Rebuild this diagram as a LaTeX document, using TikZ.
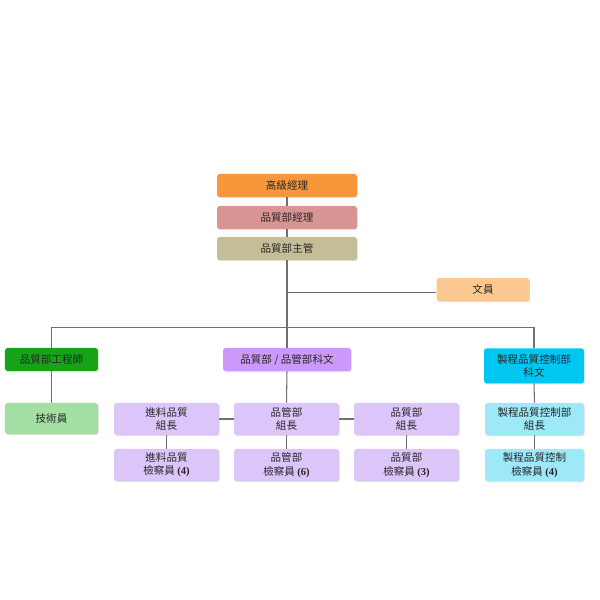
\documentclass[tikz,border=0pt]{standalone}
\usepackage{fontspec}
\newfontfamily\cjk{Noto Sans CJK TC}
\newfontfamily\numfont{Liberation Serif}
\usetikzlibrary{shadows}
\definecolor{orgbox}{HTML}{F7963B}
\definecolor{pinkbox}{HTML}{D99594}
\definecolor{khakibox}{HTML}{C4BD97}
\definecolor{peachbox}{HTML}{FAC890}
\definecolor{greenbox}{HTML}{17A317}
\definecolor{lgreenbox}{HTML}{A3DEA3}
\definecolor{purplebox}{HTML}{CC99FA}
\definecolor{lpurplebox}{HTML}{DCC6F9}
\definecolor{cyanbox}{HTML}{00C6F1}
\definecolor{lcyanbox}{HTML}{9DE8F9}
\definecolor{linegray}{HTML}{707070}
\newcommand{\num}[1]{{\numfont\bfseries #1}}

\begin{document}
\begin{tikzpicture}[
        box/.style={rounded corners=1.5pt, align=center, inner sep=0pt,
                text=black!85, font=\cjk\fontsize{6}{7.6}\selectfont,
                drop shadow={opacity=0.25, shadow xshift=0.4pt, shadow yshift=-0.6pt}},
        wide/.style={box, minimum width=2.8cm, minimum height=0.46cm},
        mid/.style={box, minimum width=1.86cm, minimum height=0.46cm},
        lead/.style={box, minimum width=2.1cm, minimum height=0.64cm},
        link/.style={linegray, line width=0.6pt}
    ]
        \useasboundingbox (0,0) rectangle (12,12);

        % top chain
        \node[wide, fill=orgbox] (gaoji) at (5.74,8.29) {高級經理};
        \node[wide, fill=pinkbox] (jingli) at (5.74,7.65) {品質部經理};
        \node[wide, fill=khakibox] (zhuguan) at (5.74,7.03) {品質部主管};
        \node[mid, fill=peachbox] (wenyuan) at (9.66,6.21) {文員};

        % second level
        \node[mid, fill=greenbox] (gongcheng) at (1.03,4.81) {品質部工程師};
        \node[box, fill=purplebox, minimum width=2.56cm, minimum height=0.46cm] (kewen) at (5.74,4.81) {品質部 / 品管部科文};
        \node[box, fill=cyanbox, minimum width=2.0cm, minimum height=0.7cm, anchor=north] (zhikong) at (10.68,5.04) {製程品質控制部\\科文};

        % group leaders
        \node[box, fill=lgreenbox, minimum width=1.86cm, minimum height=0.62cm] (jishu) at (1.03,3.63) {技術員};
        \node[lead, fill=lpurplebox] (jinliao) at (3.33,3.62) {進料品質\\組長};
        \node[lead, fill=lpurplebox] (pinguan) at (5.73,3.62) {品管部\\組長};
        \node[lead, fill=lpurplebox] (pinzhi) at (8.13,3.62) {品質部\\組長};
        \node[lead, fill=lcyanbox, minimum width=1.98cm] (zhikongz) at (10.69,3.62) {製程品質控制部\\組長};

        % inspectors
        \node[lead, fill=lpurplebox] (jinliaoj) at (3.33,2.70) {進料品質\\檢察員 \num{(4)}};
        \node[lead, fill=lpurplebox] (pinguanj) at (5.73,2.70) {品管部\\檢察員 \num{(6)}};
        \node[lead, fill=lpurplebox] (pinzhij) at (8.13,2.70) {品質部\\檢察員 \num{(3)}};
        \node[lead, fill=lcyanbox, minimum width=1.98cm] (zhikongj) at (10.69,2.70) {製程品質控制\\檢察員 \num{(4)}};

        % connectors
        \draw[link] (gaoji.south) -- (jingli.north);
        \draw[link] (jingli.south) -- (zhuguan.north);
        \draw[link] (zhuguan.south) -- (kewen.north);
        \draw[link] (zhuguan.south) |- ([yshift=-0.06cm]wenyuan.west);
        \draw[link] (gongcheng.north) -- ++(0,0.4) -| (zhikong.north);
        \draw[link] (gongcheng.south) -- (jishu.north);
        \draw[link] (kewen.south) -- (pinguan.north);
        \draw[link] (jinliao.east) -- (pinguan.west);
        \draw[link] (pinguan.east) -- (pinzhi.west);
        \draw[link] (zhikong.south) -- (zhikongz.north);
        \draw[link] (jinliao.south) -- (jinliaoj.north);
        \draw[link] (pinguan.south) -- (pinguanj.north);
        \draw[link] (pinzhi.south) -- (pinzhij.north);
        \draw[link] (zhikongz.south) -- (zhikongj.north);

\end{tikzpicture}
\end{document}
